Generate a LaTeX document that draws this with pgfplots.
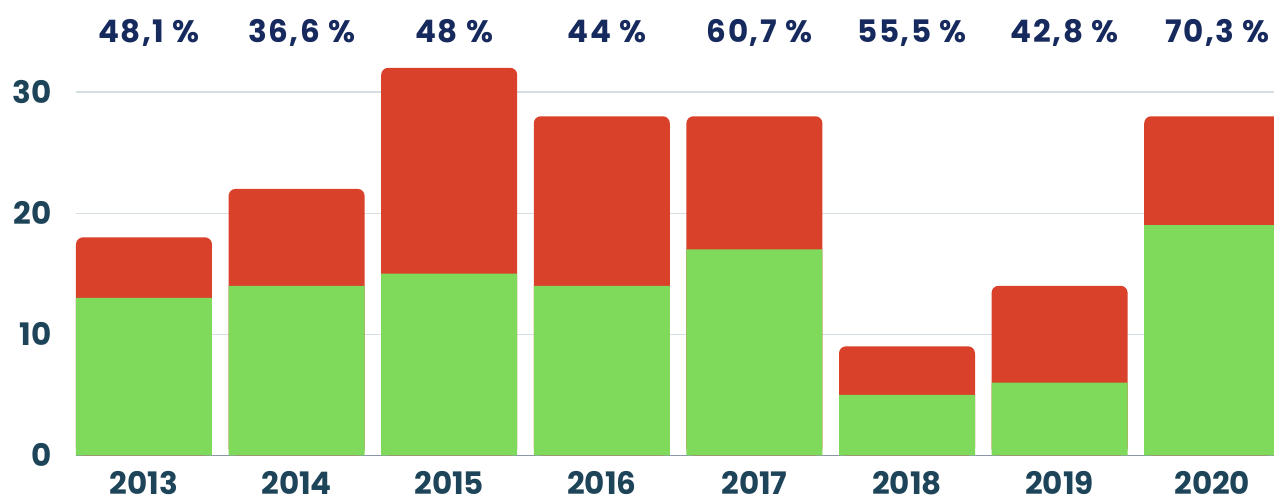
\documentclass[border=0pt]{standalone}
\usepackage{fontspec}
\setmainfont{Poppins}
\newfontfamily\spacedfont[LetterSpace=5]{Poppins}
\usepackage{pgfplots}
\pgfplotsset{compat=1.18}
\definecolor{barred}{HTML}{D9412B}
\definecolor{bargreen}{HTML}{7FD95B}
\definecolor{labnavy}{HTML}{172A5E}
\definecolor{ticktext}{HTML}{1E4459}
\definecolor{gridc}{HTML}{D5DEE3}
\definecolor{basec}{HTML}{8B97A6}
\begin{document}
\begin{tikzpicture}
\begin{axis}[
  at={(0,0)}, anchor=south west,
  scale only axis, width=599pt, height=227.65pt,
  xmin=-0.4456, xmax=7.405, ymin=0, ymax=37.6,
  ybar, bar width=68pt,
  axis x line*=bottom, axis y line*=left,
  x axis line style={draw=basec, line width=0.6pt, -},
  y axis line style={draw=none},
  major tick length=0pt,
  xtick={0,...,7},
  xticklabels={2013,2014,2015,2016,2017,2018,2019,2020},
  ytick={0,10,20,30},
  ymajorgrids, grid style={draw=gridc, line width=0.6pt},
  /pgf/number format/assume math mode=true,
  xticklabel style={anchor=base, yshift=-19.4pt, inner sep=0pt, font=\bfseries\fontsize{15.5}{18}\selectfont, text=ticktext},
  yticklabel style={anchor=east, xshift=-12pt, inner sep=0pt, font=\bfseries\fontsize{15.5}{18}\selectfont, text=ticktext},
  clip mode=individual,
]
\addplot[fill=barred, draw=none, rounded corners=3.5pt, bar shift=0pt]
  coordinates {(0,18) (1,22) (2,32) (3,28) (4,28) (5,9) (6,14) (7,28)};
\addplot[fill=bargreen, draw=none, bar shift=0pt]
  coordinates {(0,13) (1,14) (2,15) (3,14) (4,17) (5,5) (6,6) (7,19)};
\begin{scope}[every node/.style={anchor=base, inner sep=0pt, text=labnavy, font=\spacedfont\bfseries\fontsize{15.5}{18}\selectfont}]
\node at (axis cs:0.033,34.05) {48,1 \%};
\node at (axis cs:1.033,34.05) {36,6 \%};
\node at (axis cs:2.033,34.05) {48 \%};
\node at (axis cs:3.033,34.05) {44 \%};
\node at (axis cs:4.033,34.05) {60,7 \%};
\node at (axis cs:5.033,34.05) {55,5 \%};
\node at (axis cs:6.033,34.05) {42,8 \%};
\node at (axis cs:7.033,34.05) {70,3 \%};
\end{scope}
\end{axis}
\pgfresetboundingbox
\useasboundingbox (-38pt,-22.35pt) rectangle (599pt,227.65pt);
\end{tikzpicture}
\end{document}
